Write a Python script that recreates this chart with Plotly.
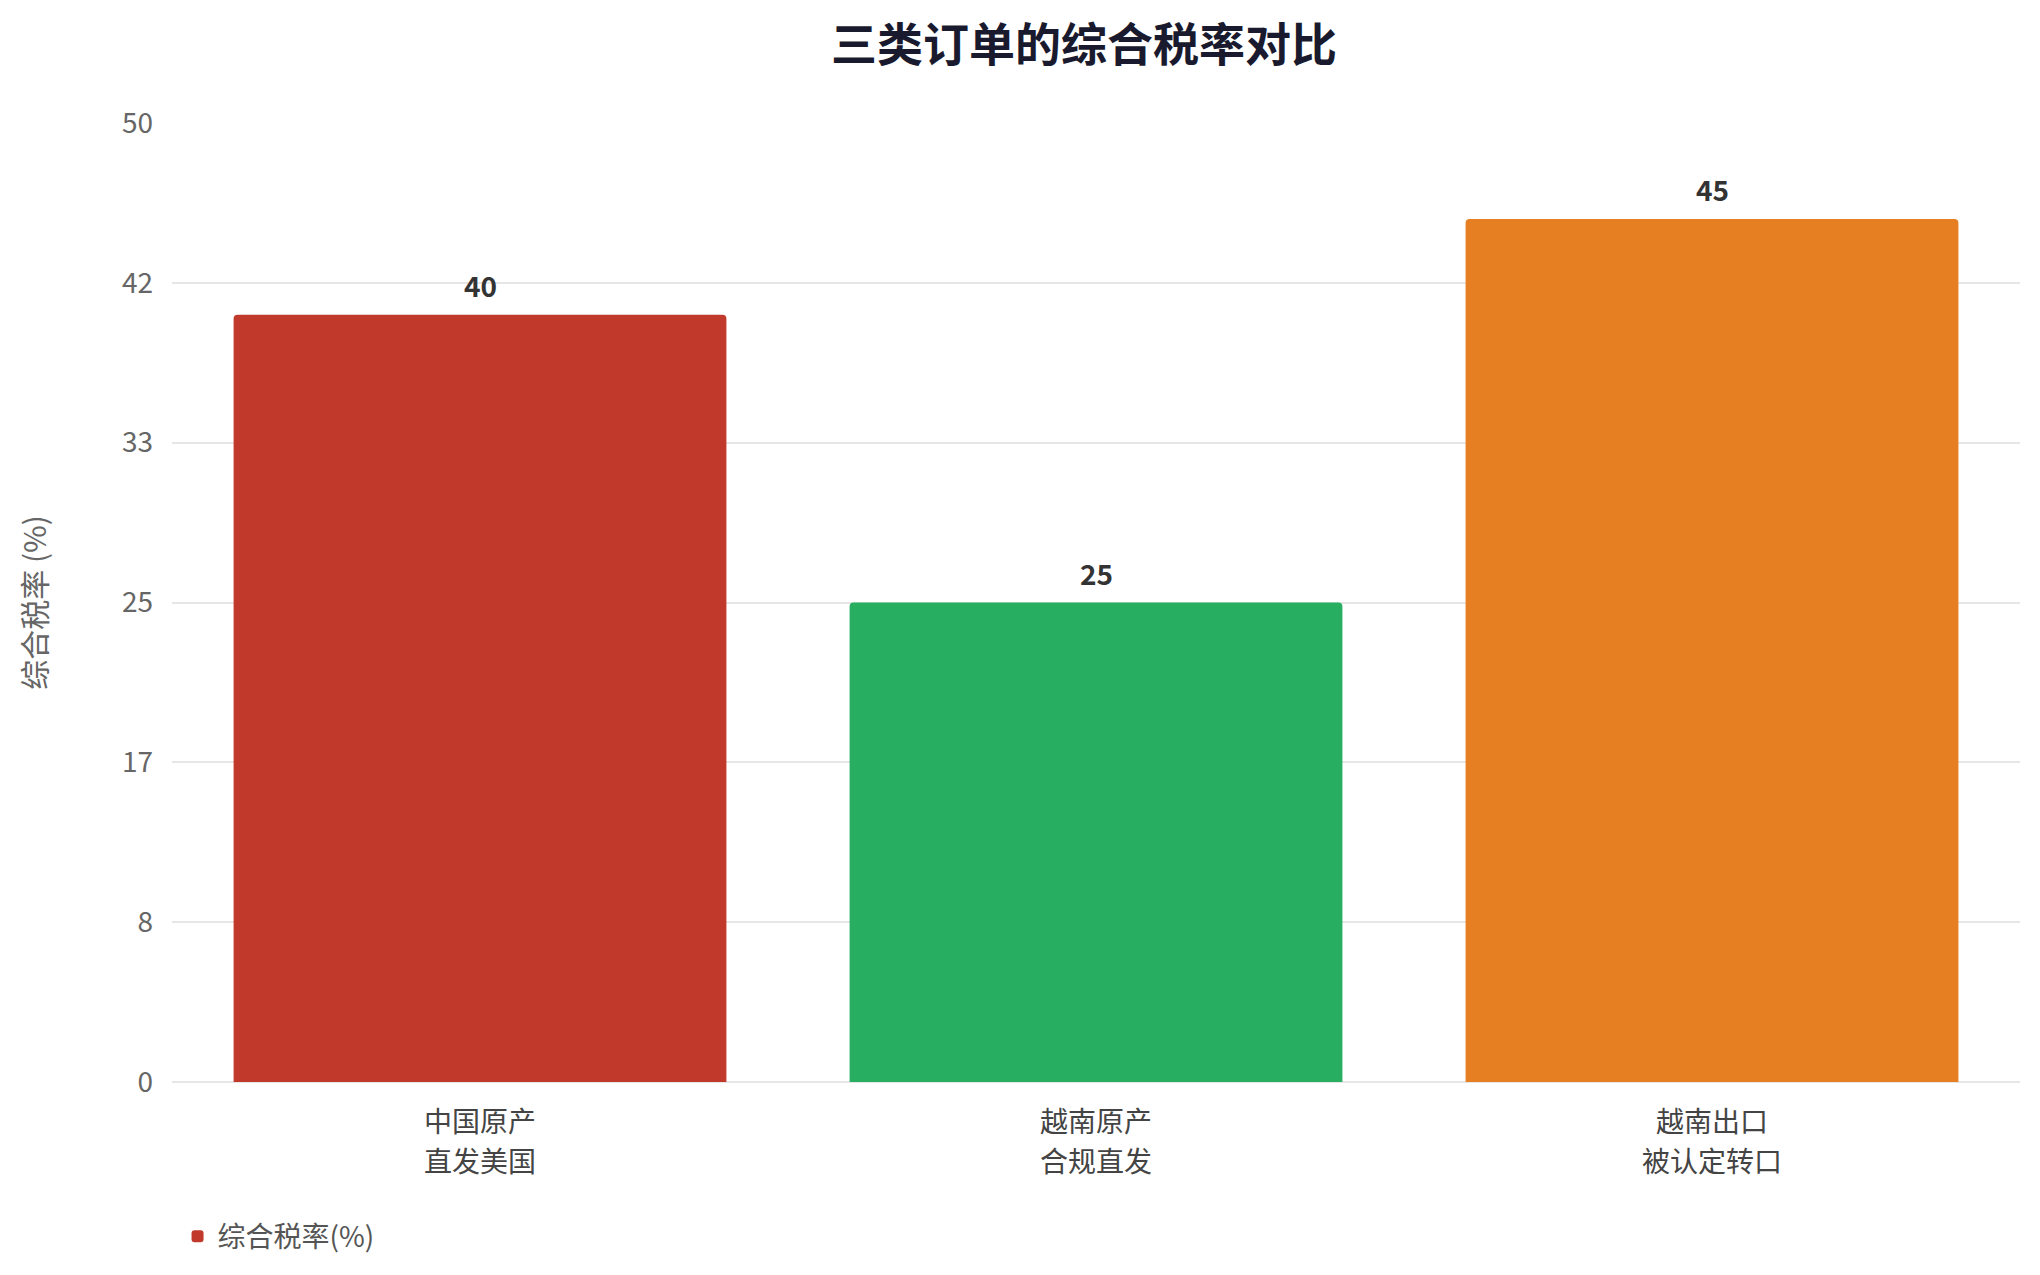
"""
三类订单的综合税率对比 —— 柱状图
"""

import plotly.graph_objects as go

# 数据
categories = ["中国原产<br>直发美国", "越南原产<br>合规直发", "越南出口<br>被认定转口"]
tax_rates = [40, 25, 45]
bar_colors = ["#C0392B", "#27AE60", "#E67E22"]

y_tick_vals = [0, 50 / 6, 100 / 6, 25, 200 / 6, 250 / 6, 50]
y_tick_text = ["0", "8", "17", "25", "33", "42", "50"]

FONT = "Noto Sans CJK SC"

fig = go.Figure()

fig.add_trace(go.Bar(
    x=categories,
    y=tax_rates,
    name="综合税率(%)",
    marker=dict(color=bar_colors, cornerradius=4, line=dict(width=0)),
    showlegend=True,
    hoverinfo="skip",
))

# 柱顶数值标签
for cat, val in zip(categories, tax_rates):
    fig.add_annotation(
        x=cat, y=val, text=f"<b>{val}</b>",
        showarrow=False, yanchor="bottom", yshift=8,
        font=dict(family=FONT, size=28, color="#333333"),
    )

# x 轴标签（两行，行距比默认更宽）
for cat in categories:
    for i, line in enumerate(cat.split("<br>")):
        fig.add_annotation(
            x=cat, y=0, text=line,
            showarrow=False, yanchor="middle", yshift=-38 - 40 * i,
            font=dict(family=FONT, size=28, color="#444444"),
        )

fig.update_layout(
    width=2030,
    height=1265,
    paper_bgcolor="white",
    plot_bgcolor="white",
    font=dict(family=FONT, size=28, color="#555555"),
    title=dict(
        text="<b>三类订单的综合税率对比</b>",
        x=0.4935, xref="paper", xanchor="center",
        y=0.9705, yref="container", yanchor="middle",
        font=dict(family=FONT, size=46, color="#1A1A2E"),
    ),
    margin=dict(l=164, r=18, t=115, b=188),
    bargap=0.2,
    legend=dict(
        orientation="h",
        x=0.003, xanchor="left",
        y=-0.135, yanchor="top",
        font=dict(family=FONT, size=28, color="#555555"),
    ),
    xaxis=dict(
        showgrid=False,
        showline=False,
        ticks="",
        showticklabels=False,
    ),
    yaxis=dict(
        range=[0, 50],
        tickvals=y_tick_vals,
        ticktext=y_tick_text,
        showgrid=True,
        gridcolor="#E6E6E6",
        gridwidth=2,
        zeroline=True,
        zerolinecolor="#E6E6E6",
        zerolinewidth=2,
        showline=False,
        ticks="",
        ticklabelstandoff=18,
        tickfont=dict(family=FONT, size=28, color="#666666"),
        title=dict(
            text="综合税率 (%)",
            font=dict(family=FONT, size=30, color="#666666"),
            standoff=66,
        ),
    ),
)

fig.write_html("out.html")
